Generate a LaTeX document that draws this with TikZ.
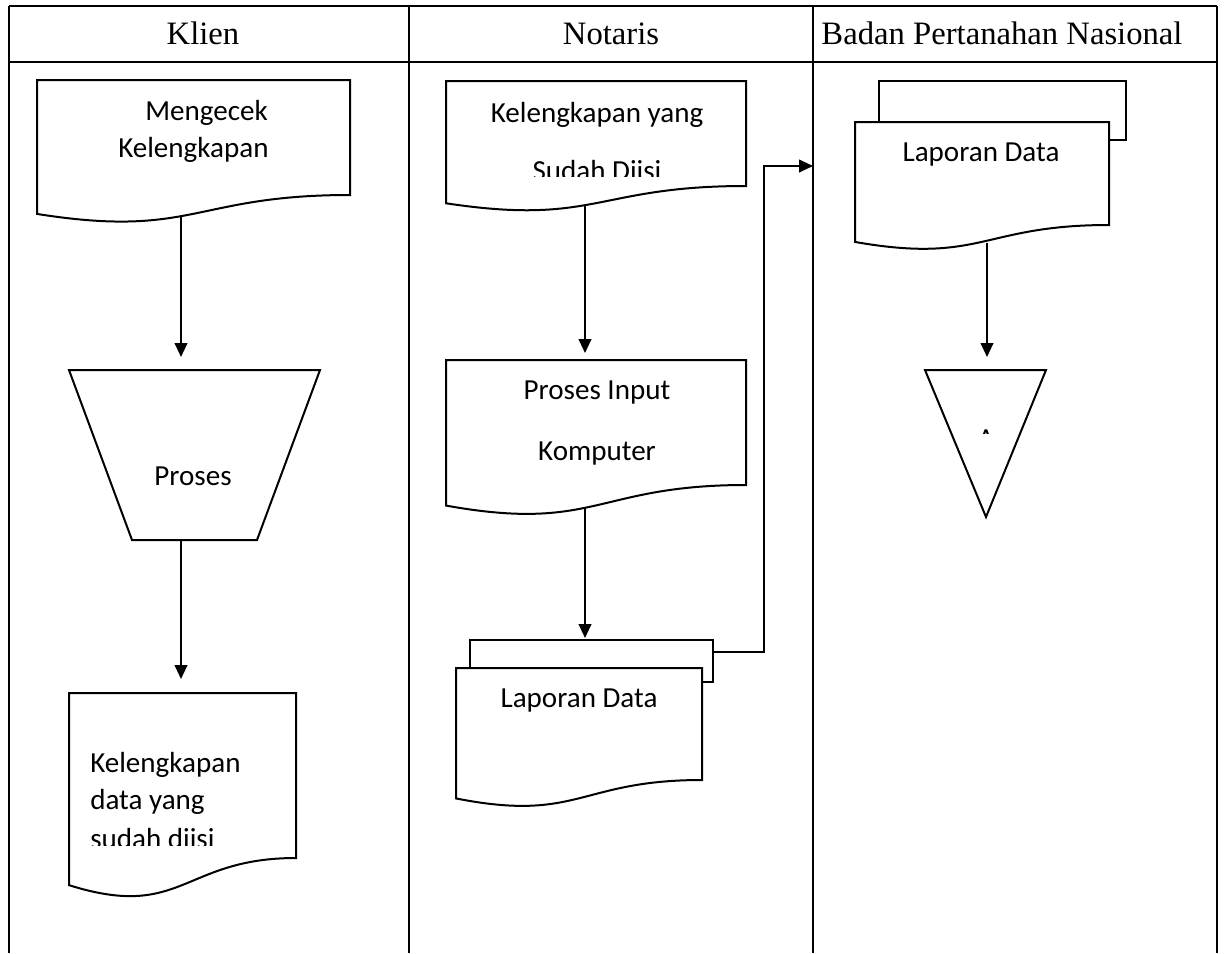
\documentclass[tikz,border=0pt]{standalone}
\usepackage{fontspec}
\setmainfont{Liberation Serif}
\newfontfamily\bodyfont{Carlito}
\usetikzlibrary{arrows.meta}

% Flowchart "document" sheet: left, top, right, y of the right-hand bottom corner
\newcommand{\docsheet}[4]{%
  \pgfmathsetmacro{\dsh}{(#4-#2)/0.802}%
  \pgfmathsetmacro{\dsm}{(#1+#3)/2}%
  \pgfmathsetmacro{\dslow}{#2+1.1075*\dsh}%
  \pgfmathsetmacro{\dsleft}{#2+0.934*\dsh}%
  \draw[shape line] (#1,#2) -- (#3,#2) -- (#3,#4)
    .. controls (\dsm,#4) and (\dsm,\dslow) .. (#1,\dsleft) -- cycle;%
}

\tikzset{
  grid line/.style={line width=2.1pt},
  shape line/.style={line width=1.5pt, fill=white},
  flow/.style={line width=1.5pt, -{Triangle[length=10.5pt,width=9.5pt]}},
  head/.style={font=\fontsize{24.5}{28}\selectfont, inner sep=0pt},
  label/.style={font=\bodyfont\fontsize{21.8}{26}\selectfont, inner sep=0pt},
}

\begin{document}
\begin{tikzpicture}[x=0.75pt,y=-0.75pt]
\useasboundingbox (0,0) rectangle (1224,953);

% swimlane table
\draw[grid line] (9,6) -- (1217,6);
\draw[grid line] (9,62) -- (1217,62);
\foreach \lx in {9,409,813,1217} \draw[grid line] (\lx,6) -- (\lx,953);

\node[head, anchor=base] (hklien) at (203,44) {Klien};
\node[head, anchor=base] (hnotaris) at (611,44) {Notaris};
\node[head, anchor=base] (hbpn) at (1002,44) {Badan Pertanahan Nasional};

% ---- Klien ----
\docsheet{37}{80}{350}{195}
\node[label, anchor=base west] (cek1) at (145,120) {Mengecek};
\node[label, anchor=base west] (cek2) at (118,157) {Kelengkapan};

\draw[shape line] (69,370) -- (320,370) -- (257,540) -- (132,540) -- cycle;
\node[label, anchor=base] (proses) at (193,485) {Proses};

\docsheet{69}{693}{296}{858}
\node[label, anchor=base west] (kd1) at (90,772) {Kelengkapan};
\node[label, anchor=base west] (kd2) at (90,809) {data yang};
\begin{scope}
  \clip (69,820) rectangle (296,845);
  \node[label, anchor=base west] (kd3) at (90,848) {sudah diisi};
\end{scope}

\coordinate (cekOut) at (181,216);
\coordinate (prosesIn) at (181,357);
\coordinate (prosesOut) at (181,540);
\coordinate (kdIn) at (181,679);
\draw[flow] (cekOut) -- (prosesIn);
\draw[flow] (prosesOut) -- (kdIn);

% ---- Notaris ----
\docsheet{446}{81}{746}{186}
\node[label, anchor=base] (ky1) at (597,122) {Kelengkapan yang};
\begin{scope}
  \clip (446,150) rectangle (746,176);
  \node[label, anchor=base] (ky2) at (597,180) {Sudah Diisi};
\end{scope}

\docsheet{446}{360}{746}{485}
\node[label, anchor=base] (pi1) at (597,399) {Proses Input};
\node[label, anchor=base] (pi2) at (597,460) {Komputer};

\draw[shape line] (470,640) rectangle (713,682);
\docsheet{456}{668}{702}{780}
\node[label, anchor=base] (lap1) at (579,707) {Laporan Data};

\coordinate (kyOut) at (585,205);
\coordinate (piIn) at (585,353);
\coordinate (piOut) at (585,507);
\coordinate (lapIn) at (585,638);
\coordinate (lapOut) at (713,652);
\coordinate (bpnIn) at (813,166);
\draw[flow] (kyOut) -- (piIn);
\draw[flow] (piOut) -- (lapIn);
\draw[flow] (lapOut) -- ++(51,0) |- (bpnIn);

% ---- Badan Pertanahan Nasional ----
\draw[shape line] (879,81) rectangle (1126,140);
\docsheet{855}{122}{1109}{225}
\node[label, anchor=base] (lap2) at (981,161) {Laporan Data};

\draw[shape line] (925,370) -- (1046,370) -- (986,517) -- cycle;
\begin{scope}
  \clip (925,420) rectangle (1046,433);
  \node[label, anchor=base] (arsip) at (986,448.5) {A};
\end{scope}

\coordinate (lap2Out) at (987,243);
\coordinate (arsipIn) at (987,357);
\draw[flow] (lap2Out) -- (arsipIn);
\end{tikzpicture}
\end{document}
